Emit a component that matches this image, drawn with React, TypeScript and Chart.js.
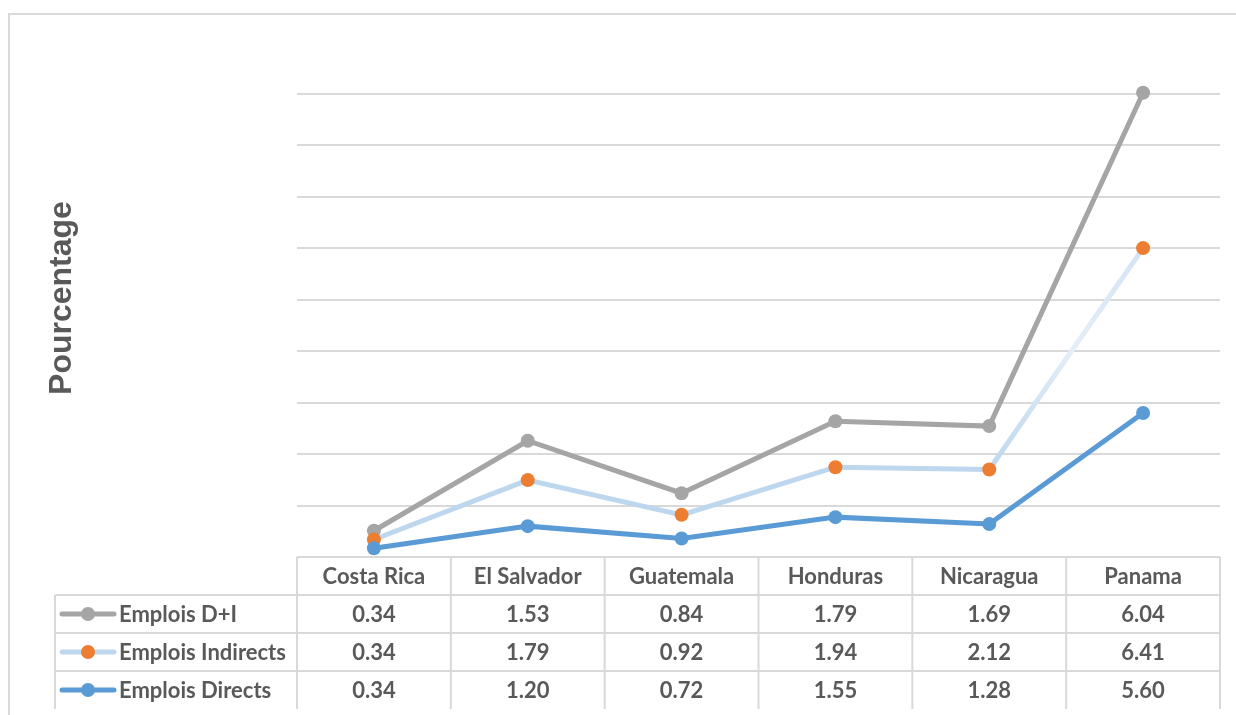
import React, { useEffect, useRef } from "react";
import { Chart, registerables } from "chart.js";

Chart.register(...registerables);

const categories = ["Costa Rica", "El Salvador", "Guatemala", "Honduras", "Nicaragua", "Panama"];
const directs = [0.34, 1.2, 0.72, 1.55, 1.28, 5.6];
const indirects = [0.34, 1.79, 0.92, 1.94, 2.12, 6.41];
const totalDI = [0.34, 1.53, 0.84, 1.79, 1.69, 6.04];
const seriesNames = ["Emplois D+I", "Emplois Indirects", "Emplois Directs"];
const yTitle = "Pourcentage";

const GREY = "#A5A5A5";
const ORANGE = "#ED7D31";
const LIGHTBLUE = "#BDD7EE";
const BLUE = "#5B9BD5";
const LINE = "#D9D9D9";
const TEXT = "#595959";

const tablePlugin = {
  id: "dataTable",
  afterDraw(chart: any) {
    const ctx = chart.ctx as CanvasRenderingContext2D;
    const x = chart.scales.x;
    const area = chart.chartArea;
    const n = categories.length;
    const colW = (area.right - area.left) / n;
    const top = area.bottom;
    const rowH = 38;
    const tableLeft = 55;
    const rows = [
      { name: seriesNames[0], vals: totalDI, line: GREY, dot: GREY },
      { name: seriesNames[1], vals: indirects, line: LIGHTBLUE, dot: ORANGE },
      { name: seriesNames[2], vals: directs, line: BLUE, dot: BLUE },
    ];
    ctx.save();
    ctx.strokeStyle = LINE;
    ctx.lineWidth = 2;
    ctx.beginPath();
    ctx.moveTo(9, 715);
    ctx.lineTo(9, 14);
    ctx.lineTo(1236, 14);
    ctx.stroke();

    ctx.strokeStyle = LINE;
    ctx.lineWidth = 2;
    ctx.beginPath();
    ctx.moveTo(area.left, top);
    ctx.lineTo(area.right, top);
    for (let r = 1; r <= 3; r++) {
      ctx.moveTo(tableLeft, top + r * rowH);
      ctx.lineTo(area.right, top + r * rowH);
    }
    ctx.moveTo(tableLeft, top + rowH);
    ctx.lineTo(tableLeft, top + 4 * rowH);
    for (let c = 0; c <= n; c++) {
      const xx = area.left + c * colW;
      ctx.moveTo(xx, top);
      ctx.lineTo(xx, top + 4 * rowH);
    }
    ctx.stroke();

    ctx.fillStyle = TEXT;
    ctx.textAlign = "center";
    ctx.textBaseline = "middle";
    ctx.font = "bold 22px Lato";
    categories.forEach((cat, i) => {
      ctx.fillText(cat, x.getPixelForValue(i), top + rowH / 2 + 1);
    });
    rows.forEach((row, r) => {
      const cy = top + (r + 1) * rowH + rowH / 2 + 1;
      row.vals.forEach((v, i) => {
        ctx.fillText(v.toFixed(2), x.getPixelForValue(i), cy);
      });
      ctx.strokeStyle = row.line;
      ctx.lineWidth = 5;
      ctx.lineCap = "round";
      ctx.beginPath();
      ctx.moveTo(62, cy - 1);
      ctx.lineTo(114, cy - 1);
      ctx.stroke();
      ctx.fillStyle = row.dot;
      ctx.beginPath();
      ctx.arc(88, cy - 1, 7, 0, Math.PI * 2);
      ctx.fill();
      ctx.fillStyle = TEXT;
      ctx.textAlign = "left";
      ctx.fillText(row.name, 119, cy);
      ctx.textAlign = "center";
    });

    ctx.translate(62, 298);
    ctx.rotate(-Math.PI / 2);
    ctx.font = "bold 32px 'Liberation Sans'";
    ctx.fillStyle = TEXT;
    ctx.fillText(yTitle, 0, 0);
    ctx.restore();
  },
};

function fadeSegment(ctx: any) {
  if (ctx.p1DataIndex !== categories.length - 1) return undefined;
  const c = ctx.chart.ctx as CanvasRenderingContext2D;
  const g = c.createLinearGradient(ctx.p0.x, ctx.p0.y, ctx.p1.x, ctx.p1.y);
  g.addColorStop(0, LIGHTBLUE);
  g.addColorStop(0.55, "#E4EEF8");
  g.addColorStop(1, "#D3E4F4");
  return g;
}

export default function App() {
  const ref = useRef<HTMLCanvasElement>(null);
  useEffect(() => {
    if (!ref.current) return;
    const common = {
      borderWidth: 5,
      pointRadius: 7,
      pointBorderWidth: 0,
      tension: 0,
      clip: false as any,
    };
    const chart = new Chart(ref.current, {
      type: "line",
      data: {
        labels: categories,
        datasets: [
          {
            label: seriesNames[2],
            data: directs,
            borderColor: BLUE,
            backgroundColor: BLUE,
            pointBackgroundColor: BLUE,
            pointBorderColor: BLUE,
            ...common,
          },
          {
            label: seriesNames[1],
            data: indirects,
            borderColor: LIGHTBLUE,
            backgroundColor: ORANGE,
            pointBackgroundColor: ORANGE,
            pointBorderColor: ORANGE,
            segment: { borderColor: fadeSegment },
            ...common,
          },
          {
            label: seriesNames[0],
            data: totalDI,
            borderColor: GREY,
            backgroundColor: GREY,
            pointBackgroundColor: GREY,
            pointBorderColor: GREY,
            ...common,
          },
        ],
      },
      options: {
        animation: false,
        responsive: false,
        layout: { padding: { left: 297, right: 16, top: 94, bottom: 158 } },
        plugins: { legend: { display: false }, tooltip: { enabled: false } },
        scales: {
          x: { display: false, offset: true },
          y: {
            stacked: true,
            min: 0,
            max: 18,
            ticks: { display: false, stepSize: 2 },
            border: { display: false },
            grid: { color: LINE, lineWidth: 2, drawTicks: false },
          },
        },
      },
      plugins: [tablePlugin],
    });
    return () => chart.destroy();
  }, []);
  return (
    <div style={{ position: "absolute", left: 0, top: 0, width: 1236, height: 715, background: "#fff" }}>
      <canvas ref={ref} width={1236} height={715} />
    </div>
  );
}
